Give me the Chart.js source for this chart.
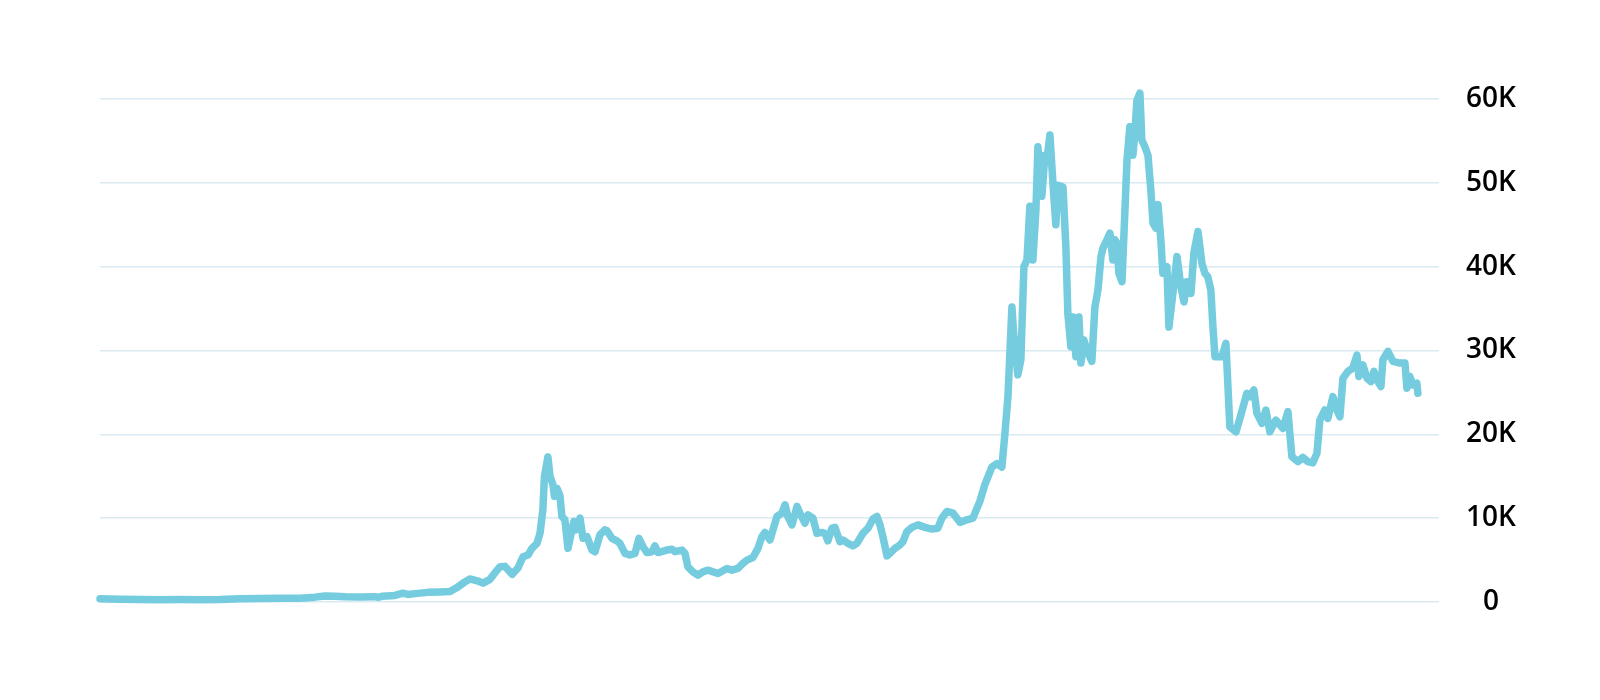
<!DOCTYPE html>
<html>
<head>
<meta charset="utf-8">
<title>Price</title>
<script src="https://cdn.jsdelivr.net/npm/chart.js@4.4.0/dist/chart.umd.min.js"></script>
<style>
  html,body{margin:0;padding:0;background:#fff;}
  #wrap{width:1600px;height:700px;}
</style>
</head>
<body>
<div id="wrap"><canvas id="chart" width="1600" height="700"></canvas></div>
<script>
// x positions as decimal years, y as price in USD
const years = [
  2015.000,2015.132,2015.263,2015.395,2015.526,2015.658,2015.789,2015.921,
  2016.053,2016.184,2016.316,2016.414,2016.480,2016.546,2016.612,2016.711,2016.809,2016.829,2016.855,2016.941,2016.993,
  2017.026,2017.072,2017.158,2017.237,2017.303,2017.355,2017.401,2017.434,2017.487,2017.520,2017.566,2017.599,2017.632,
  2017.664,2017.711,2017.750,2017.783,2017.816,2017.842,2017.875,2017.895,2017.914,2017.924,2017.947,2017.961,2017.980,2017.990,
  2018.007,2018.026,2018.039,2018.059,2018.079,2018.105,2018.118,2018.132,2018.158,2018.178,2018.204,2018.237,2018.257,
  2018.289,2018.322,2018.336,2018.368,2018.401,2018.421,2018.454,2018.487,2018.520,2018.546,2018.572,2018.599,2018.632,
  2018.651,2018.671,2018.730,2018.763,2018.783,2018.829,2018.849,2018.868,2018.901,2018.934,2018.967,
  2019.000,2019.066,2019.125,2019.158,2019.197,2019.230,2019.257,2019.296,2019.329,2019.355,2019.375,2019.408,2019.428,
  2019.454,2019.487,2019.507,2019.526,2019.553,2019.586,2019.605,2019.638,2019.658,2019.691,2019.717,2019.750,2019.770,
  2019.789,2019.816,2019.836,2019.868,2019.888,2019.921,2019.954,2019.980,
  2020.020,2020.053,2020.086,2020.112,2020.132,2020.151,2020.178,2020.197,2020.230,2020.263,2020.283,2020.309,2020.342,
  2020.382,2020.428,2020.474,2020.513,2020.539,2020.572,2020.612,2020.658,2020.704,2020.743,2020.789,2020.822,2020.868,
  2020.901,2020.934,2020.954,2020.974,
  2021.000,2021.013,2021.039,2021.059,2021.079,2021.099,2021.118,2021.138,2021.158,2021.171,2021.197,2021.217,2021.230,
  2021.250,2021.270,2021.289,2021.303,2021.336,2021.355,2021.368,2021.388,2021.401,2021.421,2021.441,2021.454,2021.474,
  2021.493,2021.526,2021.546,2021.566,2021.586,2021.599,2021.625,2021.645,2021.664,2021.678,2021.691,2021.704,2021.724,
  2021.743,2021.757,2021.776,2021.796,2021.809,2021.822,2021.842,2021.855,2021.875,2021.895,2021.914,2021.928,2021.947,
  2021.961,2021.980,2021.993,
  2022.020,2022.033,2022.059,2022.086,2022.112,2022.132,2022.151,2022.178,2022.197,2022.224,2022.250,2022.270,2022.289,
  2022.309,2022.322,2022.336,2022.382,2022.408,2022.434,2022.474,2022.500,2022.546,2022.566,2022.592,2022.612,2022.645,
  2022.671,2022.697,2022.737,2022.783,2022.816,2022.842,2022.882,2022.914,2022.947,2022.980,
  2023.007,2023.026,2023.059,2023.079,2023.112,2023.138,2023.158,2023.178,2023.211,2023.243,2023.270,2023.283,2023.309,
  2023.336,2023.362,2023.382,2023.401,2023.428,2023.441,2023.474,2023.507,2023.553,2023.586,2023.599,2023.618,2023.638,
  2023.664,2023.671
];
const prices = [
  380,330,300,280,300,280,290,400,
  430,440,460,580,720,680,620,610,640,560,680,780,1050,
  900,1000,1150,1200,1250,1800,2400,2750,2500,2250,2700,3500,4200,
  4250,3300,4050,5400,5600,6400,7000,8200,11000,14950,17300,15000,14000,12600,
  13550,12750,10200,9800,6400,8600,9600,8600,10000,7600,7800,6200,6000,
  8000,8600,8500,7600,7300,7000,5800,5600,5800,7600,6600,5900,6000,
  6700,5900,6200,6300,6000,6200,5800,4200,3600,3200,3600,
  3800,3400,4000,3800,4000,4600,5000,5300,6400,7800,8300,7400,8600,
  10200,10600,11600,10200,9200,11400,10600,9400,10400,10000,8200,8300,8200,
  7300,8800,8900,7200,7400,7000,6700,7000,
  8200,8800,9900,10200,9200,7800,5500,5800,6400,6800,7200,8400,8900,
  9200,8900,8700,8800,10000,10800,10600,9500,9800,10000,12000,14000,16100,
  16500,16100,20100,24500,
  35200,31650,27100,28900,40000,40800,47200,40800,46800,54300,48400,53300,52700,
  55700,49950,45000,49700,49500,42400,34400,30450,34000,29250,34000,28500,31250,
  30050,28700,35200,37200,41200,42200,43200,44000,40800,43200,42800,39200,38200,
  46400,52700,56700,53300,55900,59800,60700,55100,54300,53300,49150,45200,44600,
  47400,43200,39200,
  40000,32800,36800,41200,37600,35800,38200,36800,41600,44200,40400,39200,38800,
  37200,33000,29250,29250,30850,20900,20300,21900,24900,24500,25300,22500,21300,
  22900,20300,21700,20700,22700,17350,16750,17250,16750,16600,
  17750,21700,22900,21900,24500,22900,22100,26700,27500,27900,29450,26900,28300,
  26700,26300,27500,26500,25700,28900,29900,28700,28500,28500,25500,26900,25900,
  26100,24900
];
const yTicks = [0,10000,20000,30000,40000,50000,60000];
const xMin = 2015.0, xMax = 2023.81;

const ctx = document.getElementById("chart");

function tickLabel(v){ return v===0 ? "0" : (v/1000)+"K"; }

new Chart(ctx,{
  type:"line",
  data:{
    datasets:[{
      data: years.map((y,i)=>({x:y, y:prices[i]})),
      borderColor:"rgb(116,204,222)",
      borderWidth:7.5,
      borderJoinStyle:"round",
      borderCapStyle:"round",
      tension:0,
      pointRadius:0,
      fill:false
    }]
  },
  options:{
    responsive:false,
    animation:false,
    devicePixelRatio:1,
    layout:{padding:{left:100,top:99,bottom:98,right:83}},
    plugins:{legend:{display:false},tooltip:{enabled:false}},
    clip:false,
    scales:{
      x:{type:"linear",min:xMin,max:xMax,display:false},
      y:{
        position:"right",
        min:0,max:60000,
        afterBuildTicks:(s)=>{ s.ticks = yTicks.map(v=>({value:v})); },
        afterFit:(s)=>{ s.width = 78; },
        border:{display:false},
        grid:{color:"#d9eaf2",lineWidth:1.5,drawTicks:false},
        ticks:{
          callback:tickLabel,
          color:"#000",
          padding:27,
          crossAlign:"center",
          font:{family:"'Open Sans'",size:28,weight:"600"}
        }
      }
    }
  }
});
</script>
</body>
</html>
